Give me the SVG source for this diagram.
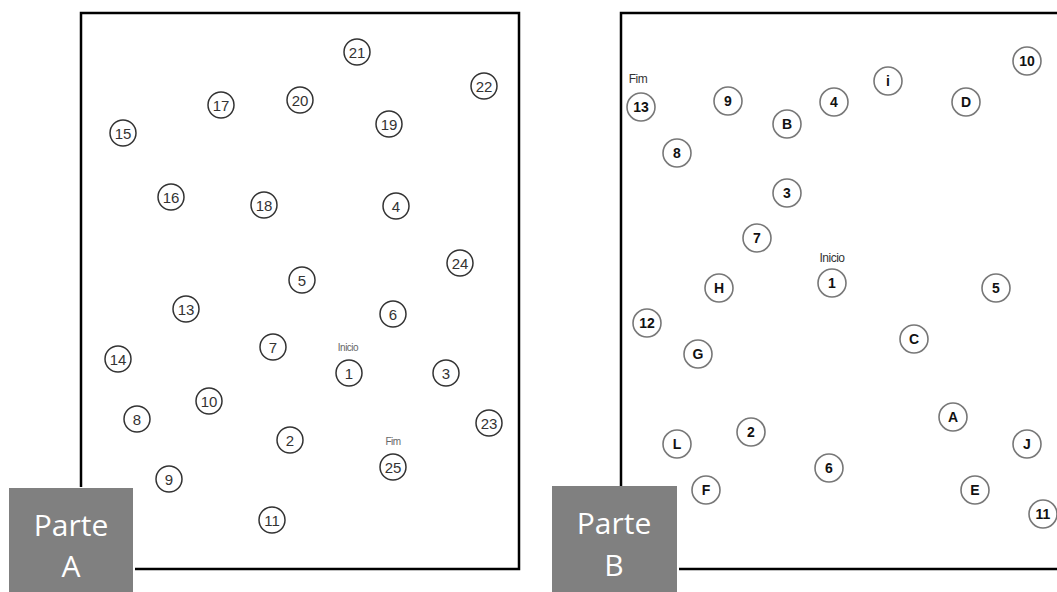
<svg xmlns="http://www.w3.org/2000/svg" width="1057" height="592" viewBox="0 0 1057 592">
<style>
.frame{fill:none;stroke:#000;stroke-width:2.5}
.tag{fill:#808080}
.tagt{fill:#fff;font-family:"Open Sans","Noto Sans",sans-serif;font-size:30px;text-anchor:middle}
.a circle{fill:#fff;stroke:#333;stroke-width:1.5}
.a text{fill:#333;font-family:"Liberation Sans",Arial,sans-serif;font-size:15px;text-anchor:middle;dominant-baseline:central}
.b circle{fill:#fff;stroke:#777;stroke-width:1.6}
.b text{fill:#111;font-family:"Liberation Sans",Arial,sans-serif;font-size:14px;font-weight:bold;text-anchor:middle;dominant-baseline:central}
.a text.lbl{fill:#666;font-size:10px;letter-spacing:-0.5px;dominant-baseline:auto}
.b text.lblb{fill:#333;font-size:12px;font-weight:normal;letter-spacing:-0.5px;dominant-baseline:auto}
</style>
<rect width="1057" height="592" fill="#fff"/>
<g id="frameA">
<path class="frame" d="M81 487 V13 H519 V569 H135"/>
<rect class="tag" x="9" y="488" width="124" height="104"/>
<text class="tagt" x="71" y="536">Parte</text>
<text class="tagt" x="71" y="577">A</text>
</g>
<g id="frameB">
<path class="frame" d="M621 486 V13 H1060 M1060 569 H679"/>
<rect class="tag" x="552" y="486" width="125" height="106"/>
<text class="tagt" x="614" y="534">Parte</text>
<text class="tagt" x="614" y="576">B</text>
</g>
<g id="connectors"></g>
<g class="a">
<g id="a15"><circle cx="123" cy="133" r="13"/><text x="123" y="133">15</text></g>
<g id="a17"><circle cx="221" cy="105" r="13"/><text x="221" y="105">17</text></g>
<g id="a20"><circle cx="300" cy="100" r="13"/><text x="300" y="100">20</text></g>
<g id="a21"><circle cx="357" cy="52" r="13"/><text x="357" y="52">21</text></g>
<g id="a22"><circle cx="484" cy="86" r="13"/><text x="484" y="86">22</text></g>
<g id="a19"><circle cx="389" cy="124" r="13"/><text x="389" y="124">19</text></g>
<g id="a16"><circle cx="171" cy="197" r="13"/><text x="171" y="197">16</text></g>
<g id="a18"><circle cx="264" cy="205" r="13"/><text x="264" y="205">18</text></g>
<g id="a4"><circle cx="396" cy="206" r="13"/><text x="396" y="206">4</text></g>
<g id="a24"><circle cx="460" cy="263" r="13"/><text x="460" y="263">24</text></g>
<g id="a5"><circle cx="302" cy="280" r="13"/><text x="302" y="280">5</text></g>
<g id="a13"><circle cx="186" cy="309" r="13"/><text x="186" y="309">13</text></g>
<g id="a6"><circle cx="393" cy="314" r="13"/><text x="393" y="314">6</text></g>
<g id="a7"><circle cx="273" cy="347" r="13"/><text x="273" y="347">7</text></g>
<g id="a14"><circle cx="118" cy="359" r="13"/><text x="118" y="359">14</text></g>
<g id="a1"><text class="lbl" x="348" y="351">Inicio</text><circle cx="349" cy="373" r="13"/><text x="349" y="373">1</text></g>
<g id="a3"><circle cx="446" cy="373" r="13"/><text x="446" y="373">3</text></g>
<g id="a10"><circle cx="209" cy="401" r="13"/><text x="209" y="401">10</text></g>
<g id="a8"><circle cx="137" cy="419" r="13"/><text x="137" y="419">8</text></g>
<g id="a2"><circle cx="290" cy="440" r="13"/><text x="290" y="440">2</text></g>
<g id="a23"><circle cx="489" cy="423" r="13"/><text x="489" y="423">23</text></g>
<g id="a25"><text class="lbl" x="393" y="445">Fim</text><circle cx="393" cy="467" r="13"/><text x="393" y="467">25</text></g>
<g id="a9"><circle cx="169" cy="479" r="13"/><text x="169" y="479">9</text></g>
<g id="a11"><circle cx="272" cy="520" r="13"/><text x="272" y="520">11</text></g>
</g>
<g class="b">
<g id="b13"><text class="lblb" x="638" y="83">Fim</text><circle cx="641" cy="107" r="14"/><text x="641" y="107">13</text></g>
<g id="b9"><circle cx="728" cy="101" r="14"/><text x="728" y="101">9</text></g>
<g id="bB"><circle cx="787" cy="124" r="14"/><text x="787" y="124">B</text></g>
<g id="b8"><circle cx="677" cy="153" r="14"/><text x="677" y="153">8</text></g>
<g id="b3"><circle cx="787" cy="193" r="14"/><text x="787" y="193">3</text></g>
<g id="b4"><circle cx="834" cy="102" r="14"/><text x="834" y="102">4</text></g>
<g id="bi"><circle cx="888" cy="81" r="14"/><text x="888" y="81">i</text></g>
<g id="bD"><circle cx="966" cy="102" r="14"/><text x="966" y="102">D</text></g>
<g id="b10"><circle cx="1027" cy="61" r="14"/><text x="1027" y="61">10</text></g>
<g id="b7"><circle cx="757" cy="238" r="14"/><text x="757" y="238">7</text></g>
<g id="bH"><circle cx="719" cy="288" r="14"/><text x="719" y="288">H</text></g>
<g id="b12"><circle cx="647" cy="323" r="14"/><text x="647" y="323">12</text></g>
<g id="bG"><circle cx="698" cy="354" r="14"/><text x="698" y="354">G</text></g>
<g id="b1"><text class="lblb" x="832" y="262">Inicio</text><circle cx="832" cy="283" r="14"/><text x="832" y="283">1</text></g>
<g id="b5"><circle cx="996" cy="288" r="14"/><text x="996" y="288">5</text></g>
<g id="bC"><circle cx="914" cy="339" r="14"/><text x="914" y="339">C</text></g>
<g id="bL"><circle cx="677" cy="444" r="14"/><text x="677" y="444">L</text></g>
<g id="b2"><circle cx="751" cy="432" r="14"/><text x="751" y="432">2</text></g>
<g id="bF"><circle cx="706" cy="490" r="14"/><text x="706" y="490">F</text></g>
<g id="bA"><circle cx="953" cy="417" r="14"/><text x="953" y="417">A</text></g>
<g id="bJ"><circle cx="1027" cy="444" r="14"/><text x="1027" y="444">J</text></g>
<g id="b6"><circle cx="829" cy="468" r="14"/><text x="829" y="468">6</text></g>
<g id="bE"><circle cx="975" cy="490" r="14"/><text x="975" y="490">E</text></g>
<g id="b11"><circle cx="1043" cy="514" r="14"/><text x="1043" y="514">11</text></g>
</g>
</svg>
